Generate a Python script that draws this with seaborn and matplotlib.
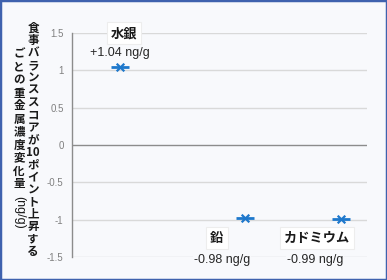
import matplotlib
matplotlib.use("Agg")
import matplotlib.pyplot as plt
import seaborn as sns
import pandas as pd
from matplotlib.patches import Rectangle

# ---- data ----
metals = ["水銀", "鉛", "カドミウム"]
x_pos = [0.5, 1.8, 2.8]
changes = [1.04, -0.98, -0.99]
value_labels = ["+1.04 ng/g", "-0.98 ng/g", "-0.99 ng/g"]
y_ticks = [-1.5, -1, -0.5, 0, 0.5, 1, 1.5]
y_tick_labels = ["-1.5", "-1", "-0.5", "0", "0.5", "1", "1.5"]
ylabel_col1 = "食事バランススコアが10ポイント上昇する"
ylabel_col2 = "ごとの重金属濃度変化量"
ylabel_unit = "(ng/g)"

df = pd.DataFrame({"metal": metals, "x": x_pos, "change": changes})

sns.set_style("white")
plt.rcParams["font.family"] = ["Liberation Sans", "Noto Sans CJK JP", "DejaVu Sans"]
JP = ["Noto Sans CJK JP", "DejaVu Sans"]

BG = "#F8F9FC"
BLUE = "#1E78CC"
W, H = 387, 280
fig = plt.figure(figsize=(W / 100, H / 100), dpi=100, facecolor=BG)
ax = fig.add_axes([72 / W, 1 - 257 / H, (367 - 72) / W, (257 - 33) / H])
ax.set_facecolor("none")

# gridlines
for t in y_ticks:
    if t != 0:
        ax.axhline(t, color="#D9D9D9", lw=1.0, zorder=0)
ax.axhline(0, color="#8C8C8C", lw=1.0, zorder=1)

# markers
sns.scatterplot(data=df, x="x", y="change", marker="_", s=170, color=BLUE,
                linewidth=2.0, ax=ax, zorder=3, legend=False)
sns.scatterplot(data=df, x="x", y="change", marker="x", s=30, color=BLUE,
                linewidth=1.6, ax=ax, zorder=4, legend=False)

ax.set_xlim(0, 3.07)
ax.set_ylim(-1.5, 1.5)
ax.set_yticks(y_ticks)
ax.set_yticklabels(y_tick_labels)
ax.set_xticks([])
ax.set_xlabel("")
ax.set_ylabel("")
for s in ["top", "right", "bottom"]:
    ax.spines[s].set_visible(False)
ax.spines["left"].set_color("#8C8C8C")
ax.spines["left"].set_linewidth(1.0)
ax.tick_params(axis="y", length=3, width=1, color="#8C8C8C",
               labelsize=7, labelcolor="#808080", pad=3)

# annotations (offsets in pixels)
name_off = [(4, 34), (-28, -20), (-24, -19)]
val_off = [(0, 14), (-23, -42), (-26, -41)]
for i in range(len(metals)):
    ax.annotate(metals[i], (x_pos[i], changes[i]), xytext=name_off[i],
                textcoords="offset pixels", ha="center", va="center",
                fontsize=9.5, fontweight="bold", family=JP, color="#1A1A1A",
                annotation_clip=False, zorder=5,
                bbox=dict(boxstyle="square,pad=0.3", fc="white", ec="#EDEDED", lw=0.8))
    ax.annotate(value_labels[i], (x_pos[i], changes[i]), xytext=val_off[i],
                textcoords="offset pixels", ha="center", va="center",
                fontsize=9, color="#262626", annotation_clip=False, zorder=5,
                bbox=dict(boxstyle="square,pad=0.1", fc=BG, ec="none"))

# vertical (tategaki) y label
def col(s):
    parts = []
    i = 0
    while i < len(s):
        if s[i].isdigit():
            j = i
            while j < len(s) and s[j].isdigit():
                j += 1
            parts.append(s[i:j])
            i = j
        else:
            parts.append(s[i])
            i += 1
    return "\n".join(parts)

fig.text(33 / W, 1 - 140 / H, col(ylabel_col1), ha="center", va="center",
         multialignment="center", fontsize=8.3, fontweight="bold", family=JP,
         linespacing=0.94, color="#1A1A1A")
fig.text(19 / W, 1 - 119 / H, col(ylabel_col2), ha="center", va="center",
         multialignment="center", fontsize=8.3, fontweight="bold", family=JP,
         linespacing=1.0, color="#1A1A1A")
fig.text(19 / W, 1 - 212 / H, ylabel_unit, ha="center", va="center",
         rotation=-90, fontsize=9, color="#1A1A1A")

# frame
fig.patches.append(Rectangle((0, 0), 1, 1, transform=fig.transFigure,
                             fill=False, ec="#3F62AE", lw=2.5))

fig.savefig("out.png", dpi=100, facecolor=BG)
